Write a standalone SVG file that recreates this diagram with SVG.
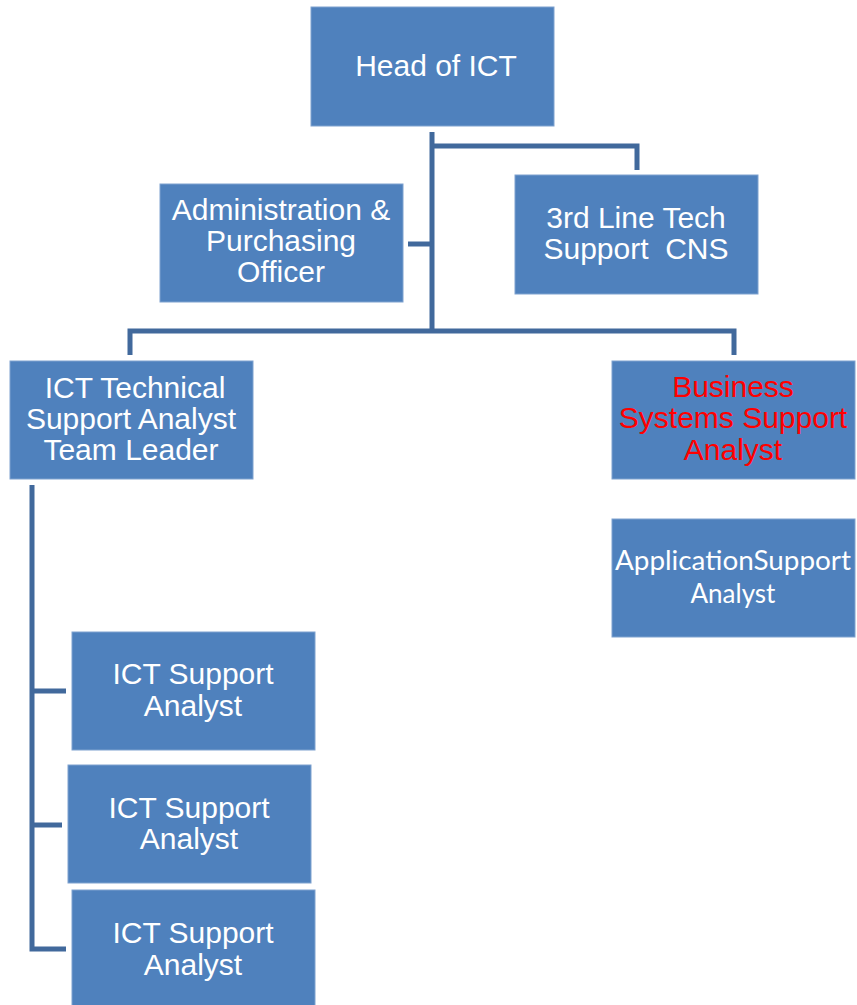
<svg xmlns="http://www.w3.org/2000/svg" width="857" height="1005" viewBox="0 0 857 1005">
<style>
.box{fill:#4F81BD;stroke:#7FA2CF;stroke-width:1}
.t{font-family:"Liberation Sans",Arial,sans-serif;font-size:30px;fill:#FFFFFF;text-anchor:middle}
.red{fill:#FF0000}
.c{font-family:Lato,"Open Sans",sans-serif;font-size:26px;fill:#FFFFFF;text-anchor:middle}
.ln{fill:none;stroke:#41699C;stroke-width:5;stroke-linejoin:miter}
</style>
<rect width="857" height="1005" fill="#FFFFFF"/>
<g id="connectors">
<path class="ln" d="M432,132 V333"/>
<path class="ln" d="M432,146 H637 V170"/>
<path class="ln" d="M408,244 H432"/>
<path class="ln" d="M130,355 V331 H734 V355"/>
<path class="ln" d="M32,485 V949 H66"/>
<path class="ln" d="M32,691 H66"/>
<path class="ln" d="M32,825 H62"/>
</g>
<g id="head">
<rect class="box" x="311" y="7" width="243" height="119"/>
<text class="t" x="436" y="76">Head of ICT</text>
</g>
<g id="admin">
<rect class="box" x="160" y="184" width="243" height="118"/>
<text class="t" x="281" y="220">Administration &amp;</text>
<text class="t" x="281" y="251">Purchasing</text>
<text class="t" x="281" y="282">Officer</text>
</g>
<g id="thirdline">
<rect class="box" x="515" y="175" width="243" height="119"/>
<text class="t" x="636" y="228">3rd Line Tech</text>
<text class="t" x="636" y="259" xml:space="preserve">Support  CNS</text>
</g>
<g id="ictteamleader">
<rect class="box" x="10" y="361" width="243" height="118"/>
<text class="t" x="135" y="398">ICT Technical</text>
<text class="t" x="131" y="429">Support Analyst</text>
<text class="t" x="131" y="460">Team Leader</text>
</g>
<g id="business">
<rect class="box" x="612" y="361" width="243" height="118"/>
<text class="t red" x="733" y="397">Business</text>
<text class="t red" x="733" y="428">Systems Support</text>
<text class="t red" x="733" y="460">Analyst</text>
</g>
<g id="application">
<rect class="box" x="612" y="519" width="243" height="118"/>
<text class="c" x="733" y="570" textLength="236" lengthAdjust="spacingAndGlyphs">ApplicationSupport</text>
<text class="c" x="733" y="603">Analyst</text>
</g>
<g id="ictsupport1">
<rect class="box" x="72" y="632" width="243" height="118"/>
<text class="t" x="193" y="684">ICT Support</text>
<text class="t" x="193" y="716">Analyst</text>
</g>
<g id="ictsupport2">
<rect class="box" x="68" y="765" width="243" height="118"/>
<text class="t" x="189" y="818">ICT Support</text>
<text class="t" x="189" y="849">Analyst</text>
</g>
<g id="ictsupport3">
<rect class="box" x="72" y="890" width="243" height="120"/>
<text class="t" x="193" y="943">ICT Support</text>
<text class="t" x="193" y="975">Analyst</text>
</g>
</svg>
